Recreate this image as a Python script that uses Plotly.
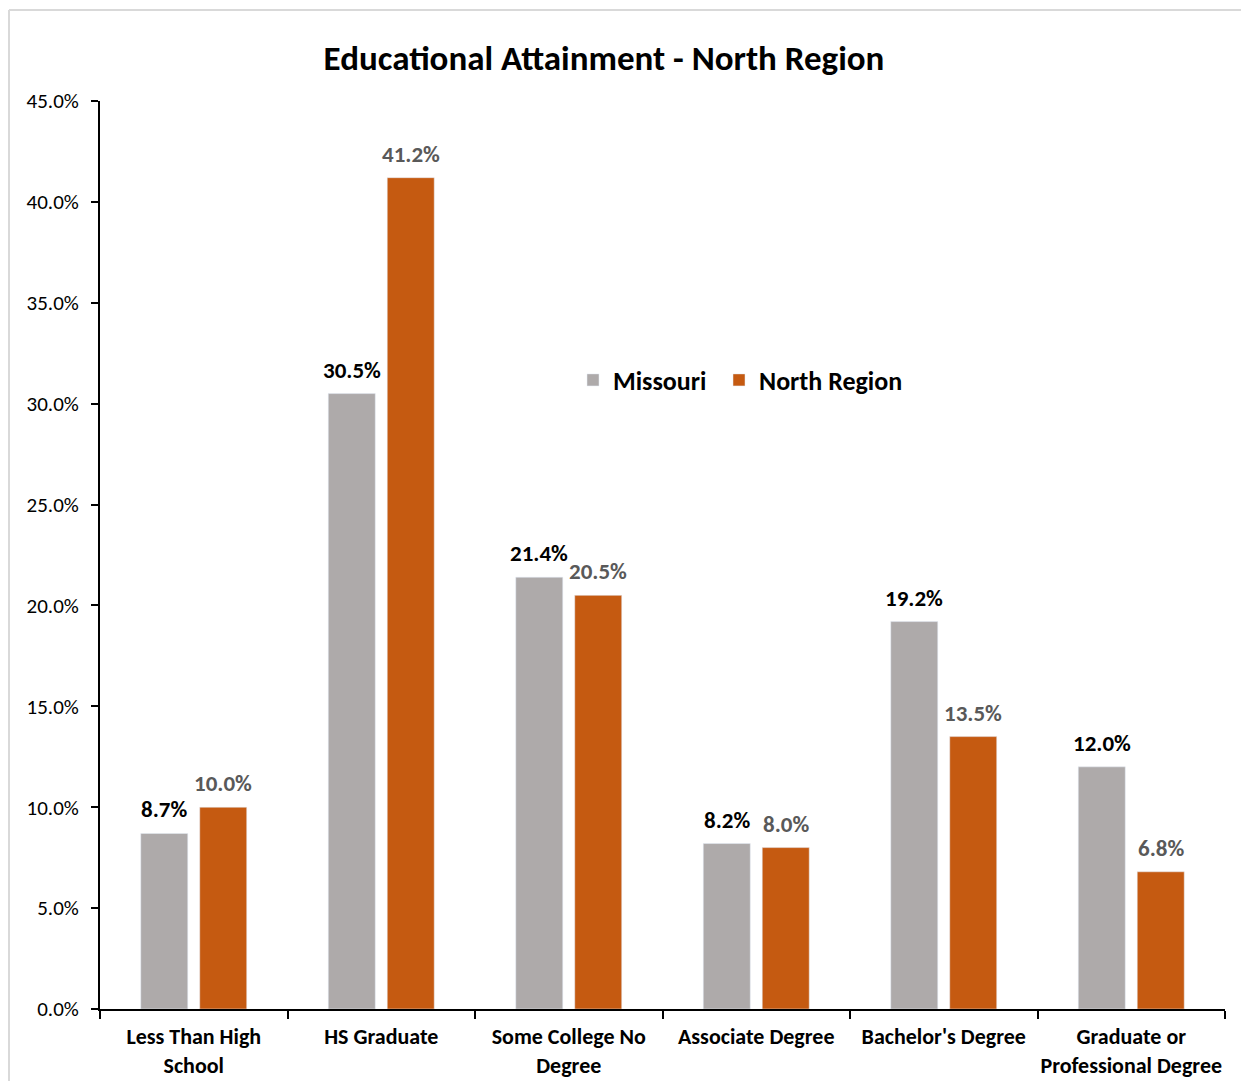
import plotly.graph_objects as go

categories = ["Less Than High<br>School", "HS Graduate", "Some College No<br>Degree",
              "Associate Degree", "Bachelor's Degree", "Graduate or<br>Professional Degree"]
missouri = [8.7, 30.5, 21.4, 8.2, 19.2, 12.0]
north_region = [10.0, 41.2, 20.5, 8.0, 13.5, 6.8]
y_ticks = [0, 5, 10, 15, 20, 25, 30, 35, 40, 45]

FONT = "Carlito, Lato, sans-serif"

# page body has an 8px margin; figure coords = screen coords - 8
OFF = 8
W, H = 1233, 1073
L, T = 100 - OFF, 101 - OFF
pw, ph = 1125, 908
R, B = W - L - pw, H - T - ph
BARGAP = 0.371
BARGROUPGAP = 0.203
slot = pw / len(categories) * (1 - BARGAP) / 2


def px_x(x):
    return (x - OFF - L) / pw


def px_y(y):
    return (T + ph - (y - OFF)) / ph


fig = go.Figure()
fig.add_trace(go.Bar(name="Missouri", x=categories, y=missouri, showlegend=True,
                     marker=dict(color="#AEAAAA"), legend="legend"))
fig.add_trace(go.Bar(name="North Region", x=categories, y=north_region, showlegend=True,
                     marker=dict(color="#C55A11"), legend="legend2"))

for vals, shift, col in [(missouri, -slot / 2, "#000000"), (north_region, slot / 2, "#595959")]:
    for c, v in zip(categories, vals):
        fig.add_annotation(x=c, y=v, xref="x", yref="y", text=f"<b>{v:.1f}%</b>",
                           showarrow=False, xshift=shift, yshift=24,
                           xanchor="center", yanchor="middle",
                           font=dict(family=FONT, size=23, color=col))

legend_style = dict(orientation="h", xanchor="left", yanchor="middle", visible=True,
                    font=dict(family=FONT, size=26, color="#000000", weight="bold"),
                    bgcolor="rgba(0,0,0,0)")

fig.update_layout(
    width=W, height=H,
    showlegend=True,
    margin=dict(l=L, r=R, t=T, b=B, autoexpand=False),
    paper_bgcolor="white", plot_bgcolor="white",
    barmode="group", bargap=BARGAP, bargroupgap=BARGROUPGAP,
    font=dict(family=FONT, color="#000000"),
    title=dict(text="<b>Educational Attainment - North Region</b>",
               x=px_x(604), xref="paper", xanchor="center",
               y=1 - (58 - OFF) / H, yref="container", yanchor="middle",
               font=dict(family=FONT, size=35, color="#000000")),
    legend=dict(x=px_x(573), y=px_y(380), **legend_style),
    legend2=dict(x=px_x(719), y=px_y(380), **legend_style),
    xaxis=dict(showline=True, linecolor="#000000", linewidth=2,
               ticks="outside", tickson="boundaries", ticklen=8, tickcolor="#000000", tickwidth=2,
               tickfont=dict(family=FONT, size=22, color="#000000", weight="bold"),
               tickangle=0, automargin=False,
               ticklabelstandoff=7, showgrid=False),
    yaxis=dict(range=[0, 45], tickvals=y_ticks, ticktext=[f"{v:.1f}%" for v in y_ticks],
               showline=True, linecolor="#000000", linewidth=2,
               ticks="outside", ticklen=7, tickcolor="#000000", tickwidth=2,
               tickfont=dict(family=FONT, size=21, color="#000000"),
               automargin=False,
               ticklabelstandoff=8, showgrid=False, zeroline=False),
    shapes=[
        dict(type="line", xref="paper", yref="paper",
             x0=px_x(9), x1=px_x(9), y0=px_y(10), y1=px_y(1100),
             line=dict(color="#D9D9D9", width=2), layer="below"),
        dict(type="line", xref="paper", yref="paper",
             x0=px_x(9), x1=px_x(1260), y0=px_y(10), y1=px_y(10),
             line=dict(color="#D9D9D9", width=2), layer="below"),
    ],
)

fig.write_html("out.html")
